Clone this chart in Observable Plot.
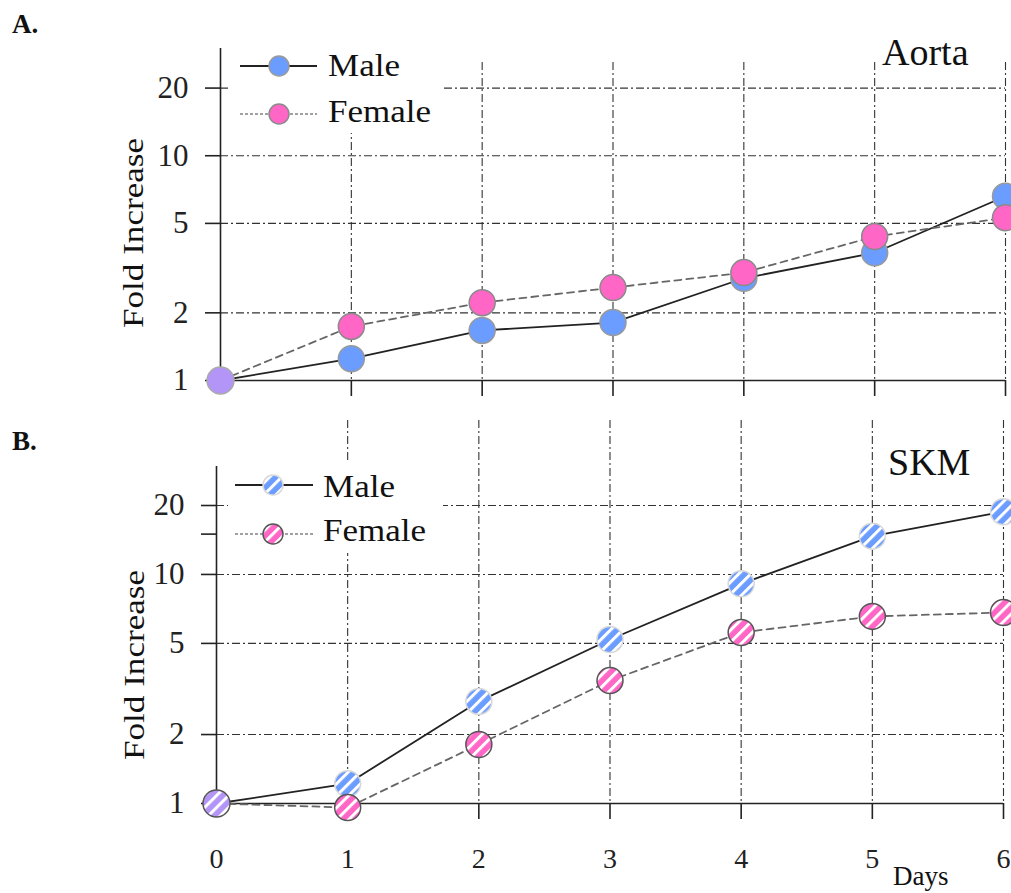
<!DOCTYPE html>
<html><head><meta charset="utf-8">
<script src="https://cdn.jsdelivr.net/npm/d3@7"></script>
<script src="https://cdn.jsdelivr.net/npm/@observablehq/plot@0.6"></script>
<style>
body{margin:0;background:#fff;}
#chart{position:relative;width:1011px;height:893px;overflow:hidden;background:#fff;}
#chart svg{position:absolute;left:0;overflow:visible;}
</style></head><body><div id="chart"></div>
<script>
// ---- data ----
const days = [0, 1, 2, 3, 4, 5, 6];
const aortaMale   = [1, 1.25, 1.67, 1.81, 2.85, 3.7, 6.6];
const aortaFemale = [1, 1.74, 2.22, 2.59, 3.02, 4.37, 5.3];
const skmMale     = [1, 1.22, 2.79, 5.2, 9.1, 14.7, 18.8];
const skmFemale   = [1, 0.96, 1.81, 3.44, 5.58, 6.56, 6.82];
const aortaYTicks = [1, 2, 5, 10, 20];
const skmYTicks   = [1, 2, 5, 10, 15, 20];
const gridYTicks  = [2, 5, 10, 20];
const seriesNames = ["Male", "Female"];
const panelTitles = ["Aorta", "SKM"];
const panelLetters = ["A.", "B."];
const yLabel = "Fold Increase";
const xLabel = "Days";

const FONT = "Liberation Serif, Times New Roman, serif";
const BLUE = "#6b9cff", PINK = "#ff66c6", PURPLE = "#b394f7";
const chart = document.getElementById("chart");

function panel(cfg) {
  const rows = days.map((d, i) => ({day: d, male: cfg.male[i], female: cfg.female[i]}));
  const grid = {stroke: "#333", strokeWidth: 1.1, strokeDasharray: "8,3,2,3"};
  const marks = [
    Plot.ruleX(days.slice(1), {y1: cfg.gridTop, y2: 1, ...grid}),
    Plot.ruleY(gridYTicks, {x1: 0, x2: 6, ...grid}),
    Plot.ruleX([0], {stroke: "#222", strokeWidth: 1.6}),
    Plot.ruleY([1], {stroke: "#222", strokeWidth: 1.6}),
    Plot.axisY({ticks: cfg.yTicks, tickFormat: d => (d === 15 ? "" : String(d)), tickSize: 15, tickPadding: 17,
      fontSize: 31, fontFamily: FONT, color: "#222", strokeWidth: 1.6, label: null}),
    Plot.axisX({ticks: days.slice(1), tickFormat: () => "", tickSize: 16, color: "#222", strokeWidth: 1.6, label: null}),
  ];
  if (cfg.xLabels) {
    marks.push(Plot.axisX({ticks: days, tickFormat: d => String(d), tickSize: 0, tickPadding: 45, fontSize: 28, fontFamily: FONT, color: "#222", label: null}));
  }
  const fm = cfg.hatched ? "url(#hatchBlue)" : BLUE;
  const ff = cfg.hatched ? "url(#hatchPink)" : PINK;
  const fp = cfg.hatched ? "url(#hatchPurple)" : PURPLE;
  marks.push(
    Plot.line(rows, {x: "day", y: "male", stroke: "#222", strokeWidth: 1.8}),
    Plot.line(rows, {x: "day", y: "female", stroke: "#666", strokeWidth: 1.8, strokeDasharray: "7,5"}),
    Plot.dot(rows.filter(d => d.day > 0), {x: "day", y: "male", r: 13, fill: fm, stroke: cfg.hatched ? "#d8d8d8" : "#9a9a9a", strokeWidth: 1.5}),
    Plot.dot(rows.filter(d => d.day > 0), {x: "day", y: "female", r: 13, fill: ff, stroke: cfg.hatched ? "#555" : "#8a8a8a", strokeWidth: 1.5}),
    Plot.dot(rows.filter(d => d.day === 0), {x: "day", y: "male", r: 13.5, fill: fp, stroke: cfg.hatched ? "#555" : "#aaa", strokeWidth: 1.5})
  );
  const svg = Plot.plot({
    width: 1011, height: cfg.height,
    marginTop: cfg.marginTop, marginBottom: cfg.marginBottom, marginLeft: cfg.marginLeft, marginRight: cfg.marginRight,
    x: {domain: [0, 6]},
    y: {type: "log", domain: cfg.yDomain},
    style: {fontFamily: FONT, background: "transparent", overflow: "visible"},
    marks
  });
  svg.style.top = cfg.top + "px";
  chart.appendChild(svg);
  return svg;
}

function stretch(t, len) {
  t.attr("textLength", len).attr("lengthAdjust", "spacingAndGlyphs");
}

function decorate(svg, cfg) {
  const s = d3.select(svg);
  if (cfg.hatched) {
    const defs = s.insert("defs", ":first-child");
    [["hatchBlue", BLUE], ["hatchPink", PINK], ["hatchPurple", PURPLE]].forEach(([id, c]) => {
      const p = defs.append("pattern").attr("id", id).attr("patternUnits", "userSpaceOnUse")
        .attr("width", 8.5).attr("height", 8.5).attr("patternTransform", "rotate(45)");
      p.append("rect").attr("width", 8.5).attr("height", 8.5).attr("fill", c);
      p.append("rect").attr("width", 3).attr("height", 8.5).attr("fill", "#fff");
    });
  }
  const g = s.append("g").attr("font-family", FONT).attr("fill", "#111").attr("text-anchor", "start");
  // legend
  const L = cfg.legend;
  g.append("rect").attr("x", 228).attr("y", L.boxY).attr("width", 215).attr("height", 90).attr("fill", "#fff");
  const items = [
    {name: seriesNames[0], y: L.y1, ty: L.t1, dash: null, stroke: "#222", w: 1.8,
     fill: cfg.hatched ? "url(#hatchBlue)" : BLUE, cs: cfg.hatched ? "#d8d8d8" : "#9a9a9a", len: 72},
    {name: seriesNames[1], y: L.y2, ty: L.t2, dash: "3,2", stroke: "#444", w: 1.2,
     fill: cfg.hatched ? "url(#hatchPink)" : PINK, cs: cfg.hatched ? "#555" : "#8a8a8a", len: 103}
  ];
  items.forEach(it => {
    g.append("line").attr("x1", L.x1).attr("x2", L.x2).attr("y1", it.y).attr("y2", it.y)
      .attr("stroke", it.stroke).attr("stroke-width", it.w).attr("stroke-dasharray", it.dash);
    g.append("circle").attr("cx", L.cx).attr("cy", it.y).attr("r", 10).attr("fill", it.fill)
      .attr("stroke", it.cs).attr("stroke-width", 1.5);
    const t = g.append("text").attr("x", L.tx).attr("y", it.ty).attr("font-size", 32).text(it.name);
    stretch(t, it.len);
  });
  // title
  g.append("text").attr("x", cfg.titleX).attr("y", cfg.titleY).attr("font-size", 38).text(cfg.title);
  // panel letter
  g.append("text").attr("x", 12).attr("y", cfg.letterY).attr("font-size", 27).attr("font-weight", "bold").text(cfg.letter);
  // y label
  const yl = g.append("text").attr("transform", `translate(${cfg.ylx},${cfg.yly}) rotate(-90)`)
    .attr("text-anchor", "middle").attr("font-size", 30).text(yLabel);
  stretch(yl, 190);
  if (cfg.xLabels) {
    g.append("text").attr("x", 893).attr("y", 465).attr("font-size", 27).text(xLabel);
  }
}

const cfgA = {
  male: aortaMale, female: aortaFemale, hatched: false, top: 0, height: 420,
  marginTop: 48, marginBottom: 40, marginLeft: 220, marginRight: 6, yDomain: [1, 30], gridTop: 26,
  yTicks: aortaYTicks, xLabels: false, title: panelTitles[0], titleX: 882, titleY: 65,
  letter: panelLetters[0], letterY: 33, ylx: 143, yly: 233,
  legend: {boxY: 43, x1: 240, x2: 317, cx: 279, tx: 328, y1: 66, t1: 76, y2: 114, t2: 122}
};
const cfgB = {
  male: skmMale, female: skmFemale, hatched: true, top: 420, height: 473,
  marginTop: 46, marginBottom: 90, marginLeft: 216, marginRight: 8, yDomain: [1, 29.6], gridTop: 47,
  yTicks: skmYTicks, xLabels: true, title: panelTitles[1], titleX: 888, titleY: 55,
  letter: panelLetters[1], letterY: 30, ylx: 144, yly: 245,
  legend: {boxY: 43, x1: 235, x2: 313, cx: 273, tx: 323, y1: 65, t1: 77, y2: 114, t2: 121}
};
decorate(panel(cfgA), cfgA);
decorate(panel(cfgB), cfgB);
</script></body></html>
